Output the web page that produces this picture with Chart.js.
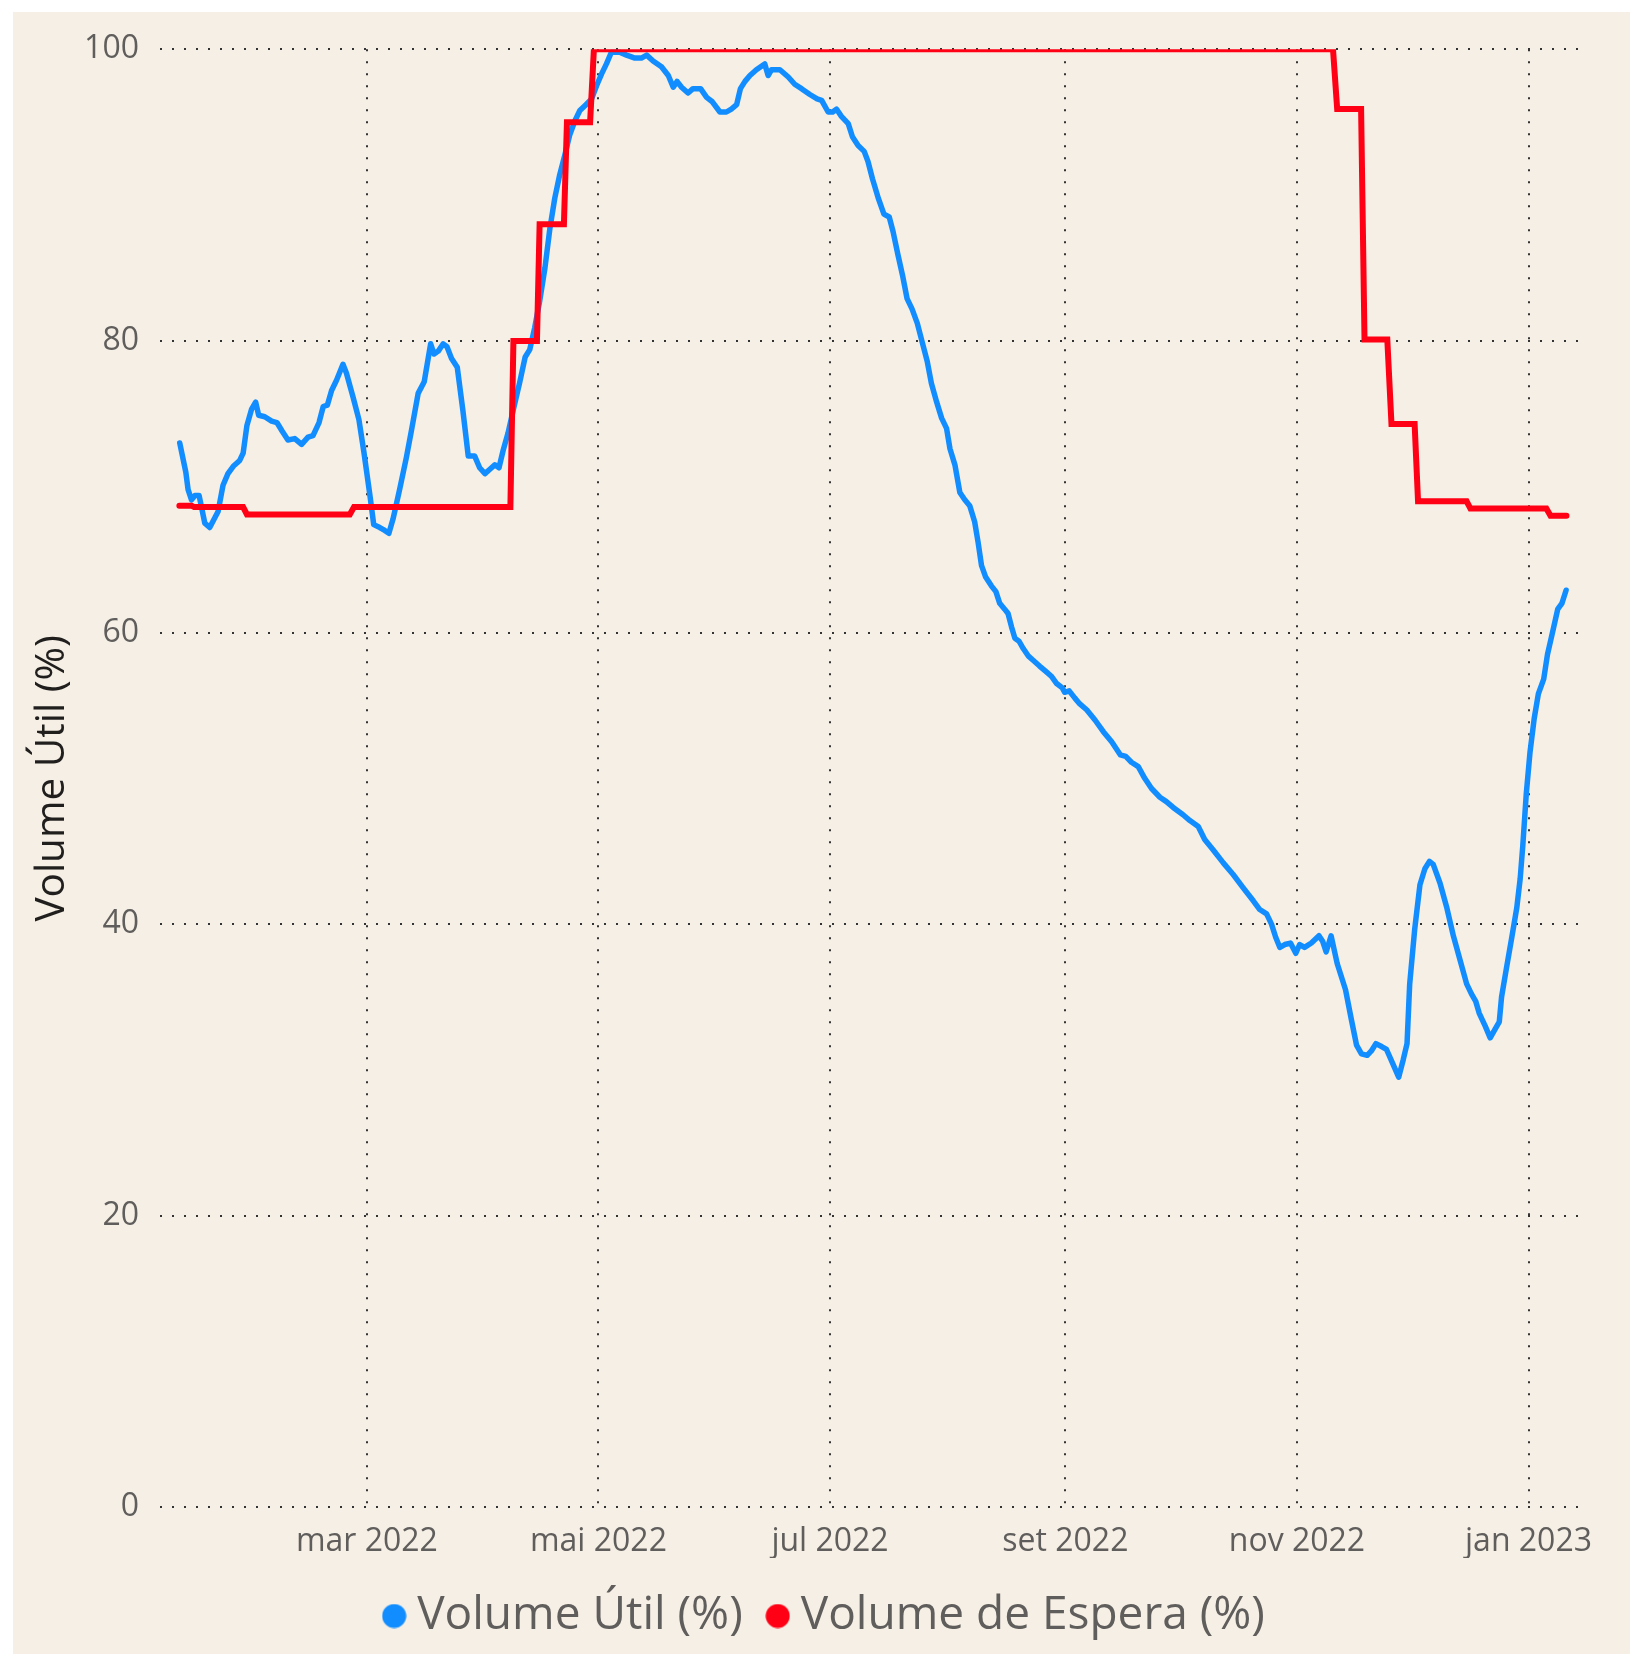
<!DOCTYPE html>
<html>
<head>
<meta charset="utf-8">
<script src="https://cdn.jsdelivr.net/npm/chart.js@4.4.0/dist/chart.umd.min.js"></script>
<style>
  html, body { margin: 0; padding: 0; background: #ffffff; }
  #panel { position: absolute; left: 13px; top: 12px; width: 1617px; height: 1642px; background: #F6EFE5; }
  canvas { display: block; }
</style>
</head>
<body>
<div id="panel"><canvas id="chart" width="1617" height="1642"></canvas></div>
<script>
// x values are days counted from 1 jan 2022 (day 0)
const monthDays = [59, 120, 181, 243, 304, 365];
const monthLabels = ['mar 2022', 'mai 2022', 'jul 2022', 'set 2022', 'nov 2022', 'jan 2023'];
const yTicks = [0, 20, 40, 60, 80, 100];

// Volume Útil (%)
const utilDays = [
  9.7, 11.3, 11.9, 12.8, 13.7, 14.8, 16.3, 17.6, 19.8, 21.1, 22.4, 23.8, 25.5, 26.4, 27.4, 28.6, 29.7, 30.5,
  32.1, 33.9, 35.3, 36.7, 38.2, 40.0, 41.8, 43.5, 44.8, 46.4, 47.5, 48.6, 49.7, 51.0, 52.7, 53.6, 55.4, 56.9,
  58.2, 59.8, 60.8, 62.4, 63.7, 64.8, 65.9, 67.7, 69.4, 70.7, 72.5, 74.1, 75.8, 76.7, 77.8, 79.1, 80.1, 81.3,
  82.8, 84.3, 85.7, 87.4, 88.7, 90.1, 91.4, 92.7, 93.8, 94.9, 96.2, 97.5, 99.3, 100.7, 101.9, 103.2, 104.5,
  105.9, 107.2, 108.5, 109.8, 111.1, 112.4, 113.8, 115.1, 116.7, 118.2, 119.5, 120.8, 122.1, 123.4, 125.6,
  127.4, 129.6, 131.3, 132.7, 134.4, 136.6, 138.4, 139.7, 140.7, 141.9, 143.6, 144.9, 146.9, 148.5, 150.0,
  152.0, 153.7, 155.0, 156.4, 157.4, 158.6, 159.9, 161.6, 163.8, 164.7, 165.6, 167.8, 170.0, 171.7, 173.5,
  175.7, 177.6, 178.8, 180.5, 181.7, 182.7, 184.0, 185.8, 186.9, 188.4, 190.0, 191.0, 192.2, 193.7, 195.2,
  196.6, 197.6, 198.9, 200.1, 201.3, 202.6, 204.0, 205.3, 206.6, 207.7, 209.1, 210.4, 211.7, 212.6, 213.9,
  215.2, 216.5, 217.8, 219.1, 220.0, 220.9, 222.0, 223.5, 224.7, 225.7, 227.0, 227.9, 228.8, 229.7, 230.8,
  231.9, 233.2, 234.5, 236.2, 238.0, 239.3, 240.7, 242.2, 242.8, 244.0, 245.5, 246.8, 248.6, 250.8, 253.0,
  255.2, 257.5, 258.9, 260.4, 262.2, 263.9, 265.7, 267.9, 269.6, 271.4, 274.0, 275.8, 278.0, 279.7, 281.9,
  284.6, 287.2, 289.8, 292.5, 294.2, 296.0, 297.3, 298.4, 299.5, 300.8, 302.3, 303.7, 304.7, 306.0, 307.8,
  309.8, 310.8, 311.7, 313.0, 314.6, 316.8, 318.3, 319.7, 321.0, 322.5, 323.6, 324.8, 326.3, 327.6, 329.3,
  330.8, 332.0, 333.0, 333.7, 335.0, 336.4, 337.7, 338.9, 339.9, 341.7, 343.5, 345.2, 347.0, 348.7, 350.0,
  351.1, 352.0, 353.6, 354.9, 356.2, 357.3, 357.9, 359.2, 360.6, 361.9, 362.8, 363.5, 364.4, 365.4, 366.5,
  367.6, 369.0, 370.0, 371.4, 372.7, 373.8, 374.9
];
const utilValues = [
  73.0, 71.0, 69.8, 69.1, 69.4, 69.4, 67.5, 67.2, 68.3, 70.1, 70.9, 71.4, 71.8, 72.3, 74.2, 75.3, 75.8, 74.9,
  74.8, 74.5, 74.4, 73.8, 73.2, 73.3, 72.9, 73.4, 73.5, 74.4, 75.5, 75.6, 76.6, 77.3, 78.4, 77.8, 76.1, 74.6,
  72.4, 69.4, 67.4, 67.2, 67.0, 66.8, 67.8, 69.9, 72.0, 73.8, 76.4, 77.2, 79.8, 79.1, 79.3, 79.8, 79.6, 78.8,
  78.2, 75.2, 72.1, 72.1, 71.3, 70.9, 71.2, 71.5, 71.3, 72.5, 73.7, 75.2, 77.2, 78.9, 79.4, 80.9, 82.7,
  85.0, 87.7, 89.8, 91.4, 92.7, 94.1, 95.1, 95.8, 96.2, 96.6, 97.5, 98.3, 99.0, 99.8, 99.8,
  99.6, 99.4, 99.4, 99.6, 99.2, 98.8, 98.2, 97.4, 97.8, 97.4, 97.0, 97.3, 97.3, 96.7, 96.4,
  95.7, 95.7, 95.9, 96.2, 97.3, 97.8, 98.2, 98.6, 99.0, 98.2, 98.6, 98.6, 98.1, 97.6, 97.3,
  96.9, 96.6, 96.5, 95.7, 95.7, 95.9, 95.4, 94.9, 94.0, 93.4, 93.0, 92.3, 91.1, 89.8, 88.7,
  88.5, 87.5, 85.9, 84.5, 82.9, 82.2, 81.2, 79.9, 78.6, 77.1, 75.8, 74.7, 74.0, 72.6, 71.5,
  69.6, 69.1, 68.7, 67.6, 66.2, 64.6, 63.8, 63.2, 62.8, 62.0, 61.6, 61.3, 60.4, 59.6, 59.4,
  58.9, 58.4, 58.1, 57.7, 57.3, 57.0, 56.5, 56.2, 55.9, 56.0, 55.5, 55.1, 54.7, 54.0, 53.2,
  52.5, 51.6, 51.5, 51.1, 50.8, 50.0, 49.3, 48.7, 48.4, 48.0, 47.5, 47.1, 46.7, 45.8, 45.1,
  44.2, 43.4, 42.5, 41.6, 41.0, 40.7, 40.0, 39.1, 38.4, 38.6, 38.7, 38.0, 38.6, 38.4, 38.7,
  39.2, 38.8, 38.1, 39.2, 37.3, 35.5, 33.5, 31.7, 31.1, 31.0, 31.3, 31.8, 31.6, 31.4, 30.4,
  29.5, 30.7, 31.8, 35.9, 39.6, 42.7, 43.8, 44.3, 44.1, 42.8, 41.1, 39.2, 37.5, 35.9, 35.2,
  34.7, 33.9, 33.0, 32.2, 32.8, 33.3, 35.0, 37.0, 39.1, 41.1, 43.1, 45.4, 48.9, 51.8, 54.1,
  55.8, 56.8, 58.5, 60.1, 61.6, 62.0, 62.9
];

// Volume de Espera (%)
const esperaDays = [
  9.6, 12.8, 13.5, 26.4, 27.4, 54.5, 55.6, 96.8, 97.6, 103.8, 104.5, 110.9, 111.7, 117.8, 118.8,
  313.5, 314.6, 320.9, 321.8, 327.8, 328.9, 335.0, 335.9, 348.7, 349.7, 369.7, 370.8, 375.0
];
const esperaValues = [
  68.7, 68.7, 68.6, 68.6, 68.1, 68.1, 68.6, 68.6, 80.0, 80.0, 88.0, 88.0, 95.0, 95.0, 100,
  100, 95.9, 95.9, 80.1, 80.1, 74.3, 74.3, 69.0, 69.0, 68.5, 68.5, 68.0, 68.0
];

const seriesNames = ['Volume Útil (%)', 'Volume de Espera (%)'];
const seriesColors = ['#118DFF', '#FF0015'];

const FONT = '"Open Sans", "Noto Sans", sans-serif';
const dotted = [2, 10];

function legendDot(color) {
  const c = document.createElement('canvas');
  c.width = 25; c.height = 25;
  const g = c.getContext('2d');
  g.fillStyle = color;
  g.beginPath();
  g.arc(12.5, 12.5, 12, 0, Math.PI * 2);
  g.fill();
  return c;
}

const toPoints = (days, vals) => days.map((d, i) => ({ x: d, y: vals[i] }));

new Chart(document.getElementById('chart'), {
  type: 'line',
  data: {
    datasets: [
      {
        label: seriesNames[0],
        data: toPoints(utilDays, utilValues),
        borderColor: seriesColors[0],
        backgroundColor: seriesColors[0],
        borderWidth: 5.5,
        borderJoinStyle: 'round',
        borderCapStyle: 'round',
        pointRadius: 0,
        pointHoverRadius: 0,
        pointStyle: legendDot(seriesColors[0]),
        tension: 0,
        order: 1
      },
      {
        label: seriesNames[1],
        data: toPoints(esperaDays, esperaValues),
        borderColor: seriesColors[1],
        backgroundColor: seriesColors[1],
        borderWidth: 6,
        borderJoinStyle: 'miter',
        borderCapStyle: 'round',
        pointRadius: 0,
        pointHoverRadius: 0,
        pointStyle: legendDot(seriesColors[1]),
        tension: 0,
        order: 0
      }
    ]
  },
  options: {
    responsive: false,
    animation: false,
    events: [],
    layout: { padding: { left: 16, right: 0, top: 37.3, bottom: 5 } },
    plugins: {
      tooltip: { enabled: false },
      legend: {
        position: 'bottom',
        labels: {
          usePointStyle: true,
          pointStyleWidth: 0.01,
          padding: 35,
          color: '#605E5C',
          font: { family: FONT, size: 46 },
          sort: (a, b) => a.datasetIndex - b.datasetIndex
        }
      }
    },
    scales: {
      x: {
        type: 'linear',
        min: 4.5,
        max: 378.3,
        afterBuildTicks: s => { s.ticks = monthDays.map(v => ({ value: v })); },
        afterFit: s => { s.height = 50.7; },
        grid: { color: '#333333', lineWidth: 2, drawTicks: false },
        border: { display: false, dash: dotted },
        ticks: {
          autoSkip: false,
          maxRotation: 0,
          padding: 15,
          color: '#605E5C',
          font: { family: FONT, size: 32 },
          callback: (v, i) => monthLabels[i]
        }
      },
      y: {
        min: 0,
        max: 100,
        afterBuildTicks: s => { s.ticks = yTicks.map(v => ({ value: v })); },
        afterFit: s => { s.width = 131; },
        grid: { color: '#333333', lineWidth: 2, drawTicks: false },
        border: { display: false, dash: dotted },
        ticks: {
          padding: 21,
          color: '#605E5C',
          font: { family: FONT, size: 32, lineHeight: 1 }
        },
        title: {
          display: true,
          text: 'Volume Útil (%)',
          color: '#201F1E',
          font: { family: FONT, size: 40.5, lineHeight: 1 },
          padding: { top: 3, bottom: 0 }
        }
      },
      // empty strip on the right of the plot, keeps the legend centred on the panel
      yRight: {
        position: 'right',
        display: true,
        afterFit: s => { s.width = 51; },
        grid: { display: false },
        border: { display: false },
        ticks: { display: false }
      }
    }
  }
});
</script>
</body>
</html>
